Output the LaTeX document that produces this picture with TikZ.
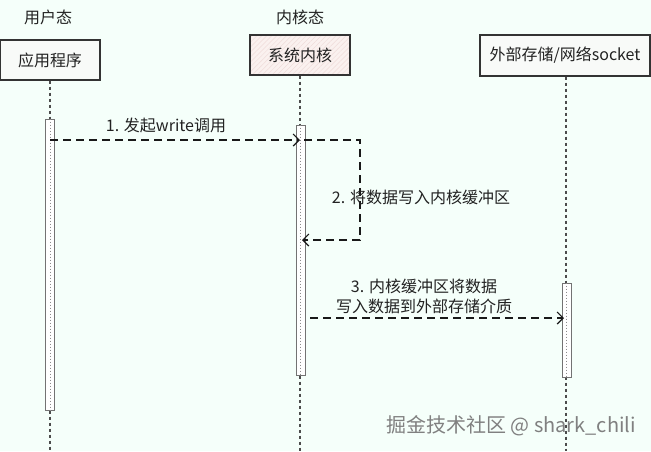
\documentclass[tikz,border=0pt]{standalone}
\usepackage{fontspec}
\setmainfont{Noto Sans CJK SC}
\usetikzlibrary{arrows.meta,patterns.meta}
\definecolor{bg}{HTML}{F5FFFA}
\definecolor{boxfill}{HTML}{F8FAF8}
\definecolor{kernfill}{HTML}{FAF1EF}
\definecolor{kernhatch}{HTML}{F0DCDA}
\definecolor{txt}{HTML}{222222}
\begin{document}
\begin{tikzpicture}[x=1pt,y=1pt,
  actor/.style={draw=black!80, line width=1.2pt, fill=boxfill, minimum width=100pt, minimum height=40pt, inner sep=0pt, font=\fontsize{16}{19}\selectfont, text=txt},
  lbl/.style={font=\fontsize{16}{20}\selectfont, text=txt, inner sep=0pt, align=center},
  lifeline/.style={dash pattern=on 3pt off 3pt, line width=1.2pt, draw=black!70},
  actbar/.style={draw=black!55, line width=1pt, fill=white, minimum width=9pt, inner sep=0pt},
  bardots/.style={dash pattern=on 1.5pt off 1.5pt, line width=0.8pt, draw=black!45},
  msg/.style={dash pattern=on 8pt off 5pt, line width=1.4pt, draw=black!90, -{Straight Barb[length=6pt,width=12pt,line width=1.2pt]}}
]
\fill[bg] (0,0) rectangle (651,-451);
\useasboundingbox (0,0) rectangle (651,-451);

% group labels
\node[lbl] (ulbl) at (48,-17) {用户态};
\node[lbl] (klbl) at (300,-17) {内核态};

% actors
\fill[kernfill] (250,-35) rectangle (350,-75);
\fill[pattern={Lines[angle=45,distance=3.5pt,line width=0.5pt]}, pattern color=kernhatch] (250,-35) rectangle (350,-75);
\node[actor] (app) at (50,-60) {应用程序};
\node[actor, fill=none] (kern) at (300,-55) {系统内核};
\node[actor, minimum width=170pt, minimum height=41pt] (ext) at (565,-55.5) {外部存储/网络socket};

% lifeline ends
\coordinate (e1) at (50,-451);
\coordinate (e2) at (300,-451);
\coordinate (e3) at (566,-451);
\draw[lifeline] (app.south) -- (e1);
\draw[lifeline] (kern.south) -- (e2);
\draw[lifeline] (ext.south -| e3) -- (e3);

% activation bars
\node[actbar, minimum height=291pt] (b1) at (50,-264.5) {};
\node[actbar, minimum height=250pt] (b2) at (300.5,-250) {};
\node[actbar, minimum height=94pt] (b3) at (566.5,-330) {};
\draw[bardots] (b1.north) -- (b1.south);
\draw[bardots] (b2.north) -- (b2.south);
\draw[bardots] (b3.north) -- (b3.south);

% message 1
\coordinate (m1s) at (50,-140);
\coordinate (m1e) at (300,-140);
\draw[msg] (m1s) -- (m1e);
\node[lbl] (l1) at (166,-125) {1. 发起write调用};

% message 2 (self)
\coordinate (m2a) at (304,-140);
\coordinate (m2b) at (360,-140);
\coordinate (m2c) at (360,-240);
\coordinate (m2d) at (302,-240);
\draw[msg] (m2a) -- (m2b) -- (m2c) -- (m2d);
\node[lbl] (l2) at (421,-197) {2. 将数据写入内核缓冲区};

% message 3
\coordinate (m3s) at (310,-318);
\coordinate (m3e) at (564,-318);
\draw[msg] (m3s) -- (m3e);
\node[lbl] (l3) at (424,-296) {3. 内核缓冲区将数据\\写入数据到外部存储介质};

% watermark
\node[font=\fontsize{20}{23}\selectfont, text=black!50, inner sep=0pt] (wm) at (511,-426) {掘金技术社区 @ shark\_chili};
\end{tikzpicture}
\end{document}
